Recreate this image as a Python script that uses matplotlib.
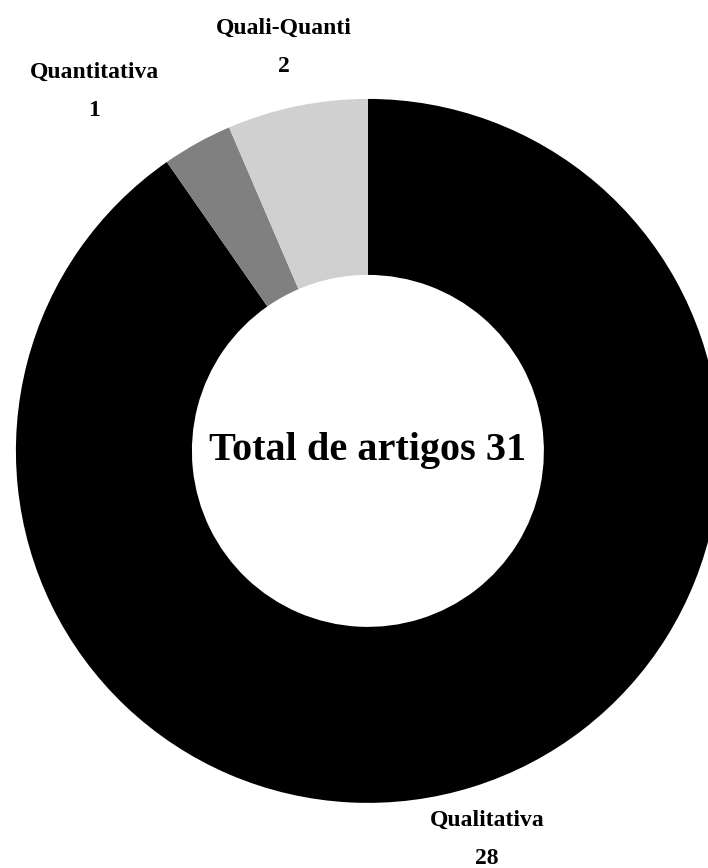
import matplotlib.pyplot as plt

categories = ["Qualitativa", "Quantitativa", "Quali-Quanti"]
counts = [28, 1, 2]
colors = ["#000000", "#808080", "#d0d0d0"]
total_label = "Total de artigos 31"

plt.rcParams['font.family'] = ['Liberation Serif', 'DejaVu Serif']

fig = plt.figure(figsize=(7.08, 8.68), dpi=100)
ax = fig.add_axes([0, 0, 1, 1])

ax.pie(counts, colors=colors, startangle=90, counterclock=False,
       radius=1.0, wedgeprops=dict(width=0.5, edgecolor='none'))

# labels placed like the original (name over value)
label_pos = {
    "Qualitativa": (0.338, -1.104),
    "Quantitativa": (-0.778, 1.022),
    "Quali-Quanti": (-0.239, 1.146),
}
for name, n in zip(categories, counts):
    x, y = label_pos[name]
    ax.text(x, y, f"{name}\n{n}", ha='center', va='center',
            fontsize=17, fontweight='bold', linespacing=2.1)

ax.text(0, 0, total_label, ha='center', va='center',
        fontsize=29, fontweight='bold')

ax.set_xlim(-1.045, 0.966)
ax.set_ylim(-1.185, 1.281)
ax.set_aspect('equal')
ax.axis('off')

fig.savefig("out.png", dpi=100)
